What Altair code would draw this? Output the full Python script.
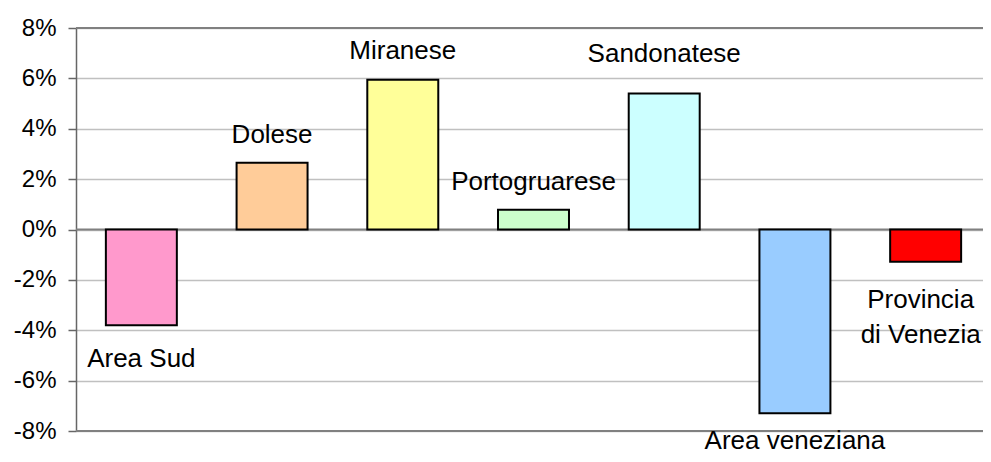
import altair as alt
import pandas as pd

categories = ["Area Sud", "Dolese", "Miranese", "Portogruarese", "Sandonatese",
              "Area veneziana", "Provincia di Venezia"]
values = [-3.8, 2.65, 5.95, 0.78, 5.4, -7.3, -1.28]
colors = ["#FF99CC", "#FFCC99", "#FFFF99", "#CCFFCC", "#CCFFFF", "#99CCFF", "#FF0000"]

label_cats = ["Area Sud", "Dolese", "Miranese", "Portogruarese", "Sandonatese",
              "Area veneziana"]
label_texts = ["Area Sud", "Dolese", "Miranese", "Portogruarese", "Sandonatese",
               "Area veneziana"]
label_pos = [-5.15, 3.75, 7.1, 1.9, 6.95, -8.4]

prov_cats = ["Provincia di Venezia", "Provincia di Venezia"]
prov_texts = ["Provincia", "di Venezia"]
prov_pos = [-2.8, -4.2]

y_ticks = [-8, -6, -4, -2, 0, 2, 4, 6, 8]
border_lines = [-8, 0, 8]

FONT = "Liberation Sans"

bars_df = pd.DataFrame({"cat": categories, "val": values, "color": colors})
labels_df = pd.DataFrame({"cat": label_cats, "text": label_texts, "pos": label_pos})
prov_df = pd.DataFrame({"cat": prov_cats, "text": prov_texts, "pos": prov_pos})
rules_df = pd.DataFrame({"v": border_lines})

xscale = alt.Scale(domain=categories, range=[0, 915], paddingInner=0.457, paddingOuter=0.2285)
yscale = alt.Scale(domain=[-8, 8], nice=False, zero=False)

yaxis = alt.Axis(
    values=y_ticks, title=None, grid=True, gridColor="#c0c0c0", gridWidth=1.5,
    tickSize=8, tickColor="#666666", tickWidth=1.5, domainColor="#666666", domainWidth=1.5,
    labelFont=FONT, labelFontSize=24, labelColor="#000000", labelPadding=12,
    labelExpr="(datum.value < 0 ? '-' : '') + abs(datum.value) + '%'",
)

base_y = alt.Y("v:Q", scale=yscale, axis=yaxis)

rules = alt.Chart(rules_df).mark_rule(color="#808080", strokeWidth=2).encode(y=base_y)

bars = alt.Chart(bars_df).mark_bar(stroke="#000000", strokeWidth=2).encode(
    x=alt.X("cat:N", scale=xscale, axis=None, sort=categories),
    y=alt.Y("val:Q", scale=yscale),
    y2=alt.datum(0),
    color=alt.Color("color:N", scale=None, legend=None),
)

labels = alt.Chart(labels_df).mark_text(
    font=FONT, fontSize=26, color="#000000", baseline="middle", align="center"
).encode(
    x=alt.X("cat:N", scale=xscale, axis=None, sort=categories, bandPosition=0.5),
    y=alt.Y("pos:Q", scale=yscale),
    text="text:N",
)

prov_labels = alt.Chart(prov_df).mark_text(
    font=FONT, fontSize=26, color="#000000", baseline="middle", align="center", dx=-5
).encode(
    x=alt.X("cat:N", scale=xscale, axis=None, sort=categories, bandPosition=0.5),
    y=alt.Y("pos:Q", scale=yscale),
    text="text:N",
)

chart = alt.layer(rules, bars, labels, prov_labels).properties(
    width=907, height=403,
    autosize=alt.AutoSizeParams(type="none"),
    padding={"left": 68, "top": 20, "right": 0, "bottom": 23},
).configure_view(stroke=None)

chart.save("out.html", embed_options={"renderer": "svg", "actions": False})
